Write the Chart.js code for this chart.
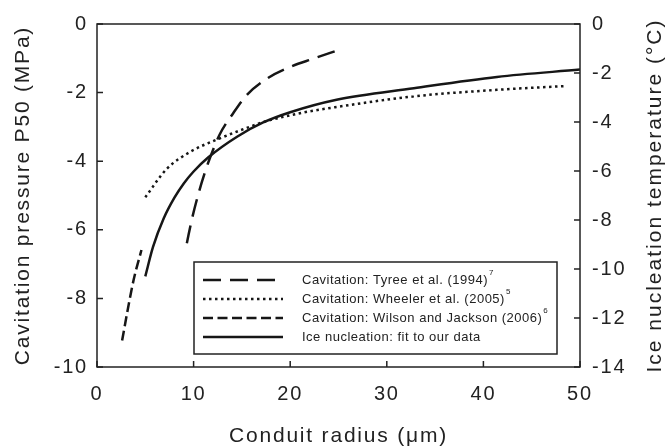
<!DOCTYPE html>
<html>
<head>
<meta charset="utf-8">
<script src="https://cdn.jsdelivr.net/npm/chart.js@4.4.1/dist/chart.umd.min.js"></script>
<style>
html, body { margin: 0; padding: 0; background: #fff; }
</style>
</head>
<body>
<canvas id="chart" width="666" height="447"></canvas>
<script>
// values (radius in µm, P50 in MPa, temperature in °C)
const tyreeRadius = [9.3, 9.8, 10.5, 11.2, 11.7, 12.7, 14.1, 15.5, 17.6, 20, 22.4, 25];
const tyreeP50 = [-6.39, -5.72, -4.95, -4.3, -3.9, -3.22, -2.6, -2.07, -1.59, -1.25, -1.01, -0.76];

const wheelerRadius = [5, 7.2, 9.7, 12.4, 15.5, 17.2, 21.4, 24.8, 32.8, 41.4, 48.4];
const wheelerP50 = [-5.05, -4.23, -3.72, -3.37, -3.03, -2.86, -2.58, -2.42, -2.11, -1.92, -1.81];

const wilsonRadius = [2.6, 3.2, 3.8, 4.6];
const wilsonP50 = [-9.23, -8.3, -7.45, -6.59];

const iceRadius = [5, 5.8, 6.9, 8, 9, 10, 11.5, 14.5, 17.2, 20, 24.8, 32.8, 41.4, 50];
const iceTemp = [-10.3, -9.1, -7.94, -7.1, -6.5, -6.02, -5.45, -4.6, -4.02, -3.6, -3.09, -2.62, -2.16, -1.86];

const seriesLabels = [
  ['Cavitation: Tyree et al. (1994)', '7'],
  ['Cavitation: Wheeler et al. (2005)', '5'],
  ['Cavitation: Wilson and Jackson (2006)', '6'],
  ['Ice nucleation: fit to our data', '']
];

const FONT = '"Liberation Sans", Arial, sans-serif';
const INK = '#161616';

function pts(xs, ys) {
  return xs.map((x, i) => ({ x: x, y: ys[i] }));
}

function line(label, data, dash, axis) {
  return {
    label: label,
    data: data,
    yAxisID: axis,
    borderColor: INK,
    borderWidth: 2.5,
    borderDash: dash,
    pointRadius: 0,
    cubicInterpolationMode: 'monotone',
    fill: false
  };
}

// canvas letter spacing, the scanned figure has wide text
const spacing = {
  id: 'spacing',
  beforeLayout(chart) { chart.ctx.letterSpacing = '1.8px'; },
  beforeDraw(chart) { chart.ctx.letterSpacing = '1.8px'; }
};

// frame, inward ticks, boxed legend and right axis title
const extras = {
  id: 'extras',
  afterDatasetsDraw(chart) {
    const { ctx, chartArea: a, scales } = chart;
    ctx.save();
    ctx.strokeStyle = '#222';
    ctx.lineWidth = 1.5;
    ctx.setLineDash([]);
    ctx.strokeRect(a.left, a.top, a.right - a.left, a.bottom - a.top);

    ctx.beginPath();
    scales.x.ticks.forEach(t => {
      const px = scales.x.getPixelForValue(t.value);
      ctx.moveTo(px, a.bottom);
      ctx.lineTo(px, a.bottom - 6);
    });
    scales.y.ticks.forEach(t => {
      const py = scales.y.getPixelForValue(t.value);
      ctx.moveTo(a.left, py);
      ctx.lineTo(a.left + 6, py);
    });
    scales.y2.ticks.forEach(t => {
      const py = scales.y2.getPixelForValue(t.value);
      ctx.moveTo(a.right, py);
      ctx.lineTo(a.right - 6, py);
    });
    ctx.stroke();

    // legend box
    const bx = 194, by = 262, bw = 363, bh = 92;
    ctx.fillStyle = '#fff';
    ctx.fillRect(bx, by, bw, bh);
    ctx.strokeRect(bx, by, bw, bh);

    chart.data.datasets.forEach((ds, i) => {
      const y = 280 + i * 19;
      ctx.strokeStyle = INK;
      ctx.lineWidth = ds.borderWidth;
      ctx.setLineDash(ds.borderDash || []);
      ctx.beginPath();
      ctx.moveTo(203, y);
      ctx.lineTo(283, y);
      ctx.stroke();

      ctx.setLineDash([]);
      ctx.fillStyle = '#222';
      ctx.letterSpacing = '0.5px';
      ctx.font = '13px ' + FONT;
      ctx.textBaseline = 'middle';
      ctx.textAlign = 'left';
      ctx.fillText(seriesLabels[i][0], 302, y);
      if (seriesLabels[i][1]) {
        const w = ctx.measureText(seriesLabels[i][0]).width;
        ctx.font = '8px ' + FONT;
        ctx.fillText(seriesLabels[i][1], 302 + w + 1, y - 7);
      }
    });

    // right axis title, reads bottom to top
    ctx.letterSpacing = '2px';
    ctx.font = '21px ' + FONT;
    ctx.fillStyle = '#222';
    ctx.textAlign = 'center';
    ctx.textBaseline = 'middle';
    ctx.translate(655, (a.top + a.bottom) / 2);
    ctx.rotate(-Math.PI / 2);
    ctx.fillText('Ice nucleation temperature (°C)', 0, 0);
    ctx.restore();
  }
};

const ctx = document.getElementById('chart').getContext('2d');
new Chart(ctx, {
  type: 'line',
  data: {
    datasets: [
      line('Tyree', pts(tyreeRadius, tyreeP50), [18, 9], 'y'),
      line('Wheeler', pts(wheelerRadius, wheelerP50), [2.5, 3.5], 'y'),
      line('Wilson', pts(wilsonRadius, wilsonP50), [10, 4.5], 'y'),
      line('Ice', pts(iceRadius, iceTemp), [], 'y2')
    ]
  },
  options: {
    responsive: false,
    animation: false,
    layout: { padding: { top: 20, left: 0, right: 0, bottom: 0 } },
    plugins: {
      legend: { display: false },
      tooltip: { enabled: false }
    },
    scales: {
      x: {
        type: 'linear',
        min: 0,
        max: 50,
        grid: { display: false, drawTicks: false },
        border: { display: false },
        ticks: { stepSize: 10, padding: 15, color: '#222', font: { family: FONT, size: 20 } },
        title: {
          display: true,
          text: 'Conduit radius (μm)',
          color: '#222',
          padding: { top: 0, bottom: 0 },
          font: { family: FONT, size: 21, lineHeight: 1 }
        },
        afterFit(scale) { scale.height = 80; }
      },
      y: {
        min: -10,
        max: 0,
        position: 'left',
        grid: { display: false, drawTicks: false },
        border: { display: false },
        ticks: { stepSize: 2, padding: 9, color: '#222', font: { family: FONT, size: 20 } },
        title: {
          display: true,
          text: 'Cavitation pressure P50 (MPa)',
          color: '#222',
          padding: { top: 13, bottom: 0 },
          font: { family: FONT, size: 21, lineHeight: 1 }
        },
        afterFit(scale) { scale.width = 97; }
      },
      y2: {
        min: -14,
        max: 0,
        position: 'right',
        grid: { display: false, drawTicks: false },
        border: { display: false },
        ticks: { stepSize: 2, padding: 12, color: '#222', font: { family: FONT, size: 20 } },
        afterFit(scale) { scale.width = 86; }
      }
    }
  },
  plugins: [spacing, extras]
});
</script>
</body>
</html>
